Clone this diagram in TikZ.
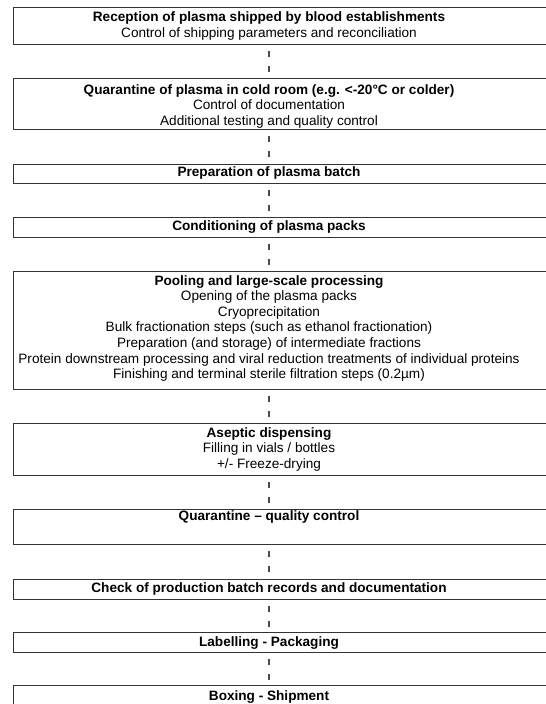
\documentclass[tikz,border=0pt]{standalone}
\usepackage{fontspec}
\setmainfont{Liberation Sans}
\usetikzlibrary{positioning}

\begin{document}
\begin{tikzpicture}[
    x=1pt, y=-1pt,
    stage/.style={rectangle, draw=black!80, line width=1.1pt, anchor=north west, minimum width=545pt, inner sep=0pt},
    stagetext/.style={align=center, inner sep=0pt, font=\fontsize{13.6}{15.6}\selectfont},
    link/.style={draw=black!70, line width=1.1pt, dash pattern=on 5.5pt off 9.5pt, dash phase=9pt}
]
\useasboundingbox (0,0) rectangle (546,704);
\clip (0,0) rectangle (546,704);

% frames of the stages
\node[stage, minimum height=37pt] (b1) at (13,7) {};
\node[stage, minimum height=51pt] (b2) at (13,78) {};
\node[stage, minimum height=19pt] (b3) at (13,164) {};
\node[stage, minimum height=20pt] (b4) at (13,217) {};
\node[stage, minimum height=118pt] (b5) at (13,271) {};
\node[stage, minimum height=52pt] (b6) at (13,423) {};
\node[stage, minimum height=35pt] (b7) at (13,509) {};
\node[stage, minimum height=20pt] (b8) at (13,579) {};
\node[stage, minimum height=20pt] (b9) at (13,632) {};
\node[stage, minimum height=25pt] (b10) at (13,685) {};

% texts of the stages
\node[stagetext] (t1) at (269,25.8) {\textbf{Reception of plasma shipped by blood establishments}\\Control of shipping parameters and reconciliation};
\node[stagetext] (t2) at (269,106.3) {\textbf{Quarantine of plasma in cold room (e.g. <-20°C or colder)}\\Control of documentation\\Additional testing and quality control};
\node[stagetext] (t3) at (269,173.3) {\textbf{Preparation of plasma batch}};
\node[stagetext] (t4) at (269,227.5) {\textbf{Conditioning of plasma packs}};
\node[stagetext] (t5) at (269,328.4) {\textbf{Pooling and large-scale processing}\\Opening of the plasma packs\\Cryoprecipitation\\Bulk fractionation steps (such as ethanol fractionation)\\Preparation (and storage) of intermediate fractions\\Protein downstream processing and viral reduction treatments of individual proteins\\Finishing and terminal sterile filtration steps (0.2µm)};
\node[stagetext] (t6) at (269,449.4) {\textbf{Aseptic dispensing}\\Filling in vials / bottles\\+/- Freeze-drying};
\node[stagetext] (t7) at (269,516.7) {\textbf{Quarantine – quality control}};
\node[stagetext] (t8) at (269,589) {\textbf{Check of production batch records and documentation}};
\node[stagetext] (t9) at (269,643) {\textbf{Labelling - Packaging}};
\node[stagetext] (t10) at (269,696.7) {\textbf{Boxing - Shipment}};

% dashed links
\draw[link] (b1.south -| t1) -- (b2.north -| t1);
\draw[link] (b2.south -| t1) -- (b3.north -| t1);
\draw[link] (b3.south -| t1) -- (b4.north -| t1);
\draw[link] (b4.south -| t1) -- (b5.north -| t1);
\draw[link] (b5.south -| t1) -- (b6.north -| t1);
\draw[link] (b6.south -| t1) -- (b7.north -| t1);
\draw[link] (b7.south -| t1) -- (b8.north -| t1);
\draw[link] (b8.south -| t1) -- (b9.north -| t1);
\draw[link] (b9.south -| t1) -- (b10.north -| t1);
\end{tikzpicture}
\end{document}
